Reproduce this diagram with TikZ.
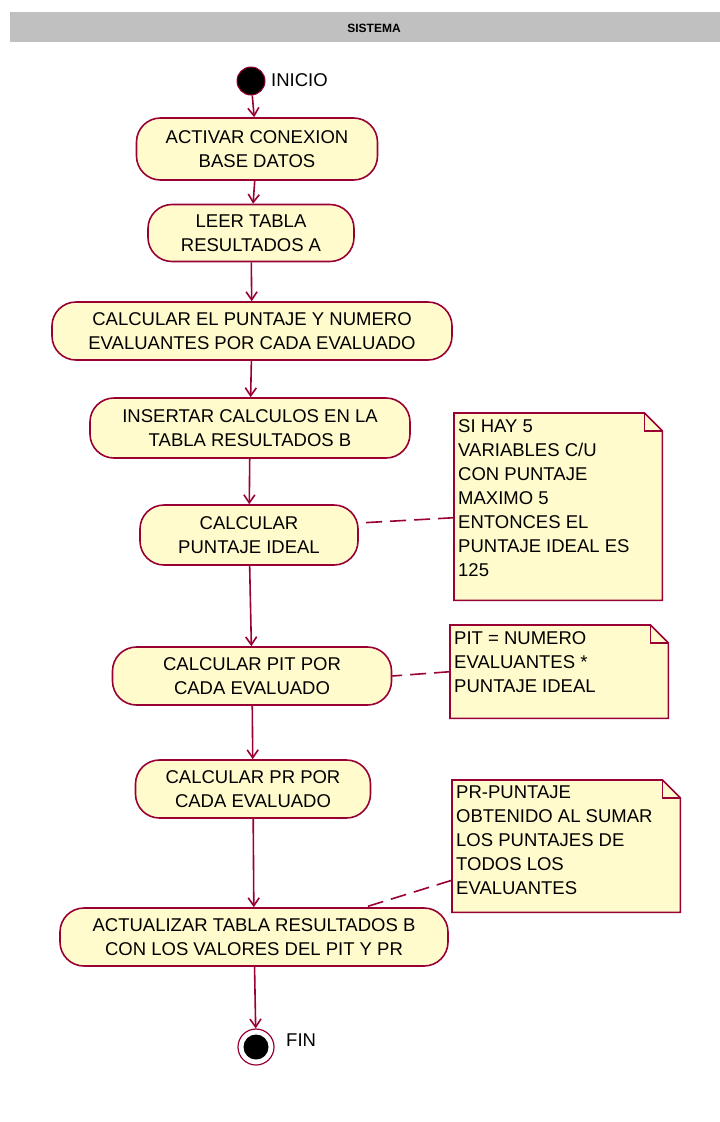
\documentclass[tikz,border=0pt]{standalone}
\usepackage{fontspec}
\setmainfont{Liberation Sans}
\usetikzlibrary{arrows.meta}
\definecolor{rosered}{RGB}{153,0,51}
\definecolor{actfill}{RGB}{255,251,204}
\definecolor{lanegray}{RGB}{192,192,192}
\pgfdeclarelayer{background}
\pgfsetlayers{background,main}
% top-aligned note body of fixed width and height
\newcommand{\notebody}[3]{\parbox[t][#2][t]{#1}{\raggedright #3}}
\begin{document}
\begin{tikzpicture}[x=1pt,y=-1pt,
  txt/.style={font=\fontsize{18.5}{24}\selectfont},
  activity/.style={txt, draw=rosered, fill=actfill, line width=1.6pt,
    rounded corners=24pt, align=center, inner sep=0pt},
  notebox/.style={txt, anchor=north west, inner xsep=4pt, inner ysep=6pt},
  noteline/.style={draw=rosered, line width=1.6pt, fill=actfill, line join=miter},
  flow/.style={draw=rosered, line width=1.6pt,
    -{Straight Barb[length=8pt,width=11pt,line width=1.6pt]}},
  anchorline/.style={draw=rosered, line width=1.6pt, dash pattern=on 16pt off 8pt},
]
\useasboundingbox (0,0) rectangle (720,1122);

% swimlane header
\fill[lanegray] (10,12) rectangle (720,42);
\node[font=\fontsize{12}{14}\selectfont\bfseries] (lane) at (374,28) {SISTEMA};

% start and end states
\node[circle, fill=black, draw=rosered, line width=1pt, minimum size=28pt, inner sep=0pt] (start) at (251,81) {};
\node[txt, anchor=west, inner sep=0pt] (startlbl) at (271,80) {INICIO};

\node[circle, draw=rosered, line width=1.2pt, minimum size=36pt, inner sep=0pt] (end) at (256,1047) {};
\node[circle, fill=black, minimum size=25pt, inner sep=0pt] (endcore) at (end) {};
\node[txt, anchor=west, inner sep=0pt] (endlbl) at (286,1040) {FIN};

% activities
\node[activity, minimum width=241pt, minimum height=62pt] (n1) at (257,149) {ACTIVAR CONEXION\\BASE DATOS};
\node[activity, minimum width=206pt, minimum height=57pt] (n2) at (251,233) {LEER TABLA\\RESULTADOS A};
\node[activity, minimum width=400pt, minimum height=58pt] (n3) at (252,331) {CALCULAR EL PUNTAJE Y NUMERO\\EVALUANTES POR CADA EVALUADO};
\node[activity, minimum width=320pt, minimum height=60pt] (n4) at (250,428) {INSERTAR CALCULOS EN LA\\TABLA RESULTADOS B};
\node[activity, minimum width=218pt, minimum height=60pt] (n5) at (249,535) {CALCULAR\\PUNTAJE IDEAL};
\node[activity, minimum width=279pt, minimum height=58pt] (n6) at (252,676) {CALCULAR PIT POR\\CADA EVALUADO};
\node[activity, minimum width=235pt, minimum height=58pt] (n7) at (253,789) {CALCULAR PR POR\\CADA EVALUADO};
\node[activity, minimum width=388pt, minimum height=58pt] (n8) at (254,937) {ACTUALIZAR TABLA RESULTADOS B\\CON LOS VALORES DEL PIT Y PR};

% control flow
\draw[flow] (start) -- (n1);
\draw[flow] (n1) -- (n2);
\draw[flow] (n2) -- (n3);
\draw[flow] (n3) -- (n4);
\draw[flow] (n4) -- (n5);
\draw[flow] (n5) -- (n6);
\draw[flow] (n6) -- (n7);
\draw[flow] (n7) -- (n8);
\draw[flow] (n8) -- (end);

% notes
\node[notebox] (noteA) at (454,413)
  {\notebody{200pt}{175pt}{SI HAY 5\\VARIABLES C/U\\CON PUNTAJE\\MAXIMO 5\\ENTONCES EL\\PUNTAJE IDEAL ES\\125}};
\node[notebox] (noteB) at (450,625)
  {\notebody{210pt}{81pt}{PIT = NUMERO\\EVALUANTES *\\PUNTAJE IDEAL}};
\node[notebox] (noteC) at (452,780)
  {\notebody{220pt}{120pt}{PR-PUNTAJE\\OBTENIDO AL SUMAR\\LOS PUNTAJES DE\\TODOS LOS\\EVALUANTES}};

\begin{pgfonlayer}{background}
  \foreach \nt in {noteA,noteB,noteC}{
    \draw[noteline] (\nt.north west) -- ([xshift=-18pt]\nt.north east)
      -- ([yshift=-18pt]\nt.north east) -- (\nt.south east)
      -- (\nt.south west) -- cycle;
    \draw[rosered, line width=1.2pt] ([xshift=-18pt]\nt.north east)
      -- ([xshift=-18pt,yshift=-18pt]\nt.north east) -- ([yshift=-18pt]\nt.north east);
  }
\end{pgfonlayer}

% note anchors
\draw[anchorline] ([yshift=-11pt]noteA.west) -- ([yshift=12pt]n5.east);
\draw[anchorline] (noteB.west) -- (n6.east);
\draw[anchorline] ([yshift=-34pt]noteC.west) -- ([xshift=111pt]n8.north);
\end{tikzpicture}
\end{document}
